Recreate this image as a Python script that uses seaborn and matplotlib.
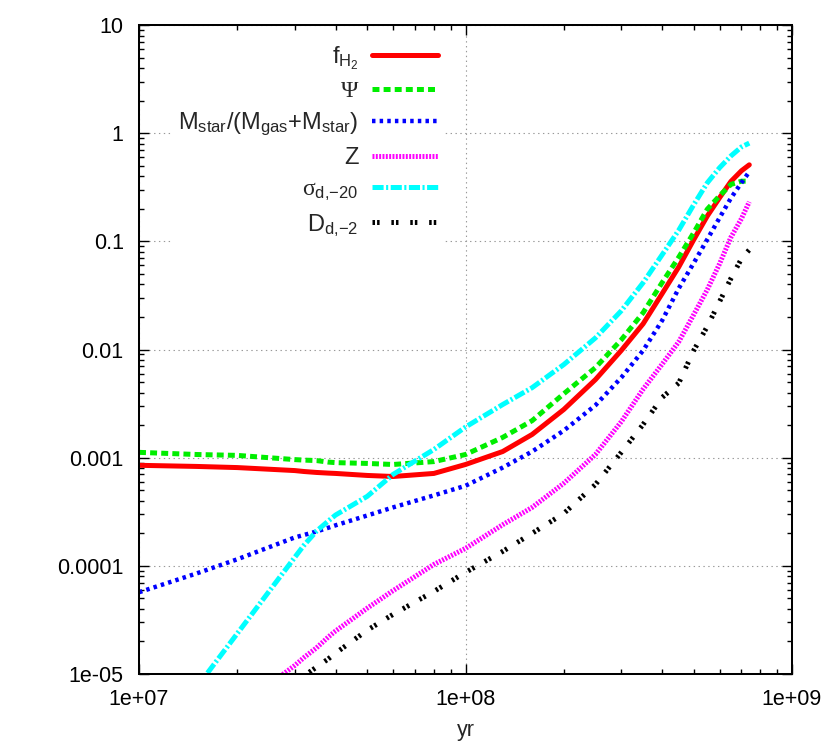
import numpy as np
import matplotlib
matplotlib.use('Agg')
import matplotlib.pyplot as plt
import seaborn as sns

# --- data (log-log, time in yr) ---
time_yr = [1e7, 1.5e7, 2e7, 3e7, 3.2e7, 3.5e7, 3.8e7, 4e7, 5e7, 6e7, 8e7, 1e8, 1.3e8,
           1.6e8, 2e8, 2.5e8, 3e8, 3.5e8, 4e8, 4.5e8, 5e8, 5.5e8, 6e8, 6.5e8, 7e8, 7.4e8]

f_h2 = [8.5e-4, 8.3e-4, 8.1e-4, 7.6e-4, 7.45e-4, 7.3e-4, 7.2e-4, 7.15e-4, 6.85e-4, 6.7e-4, 7.15e-4, 8.65e-4, 1.14e-3,
        1.64e-3, 2.79e-3, 5.27e-3, 9.8e-3, 0.0173, 0.0328, 0.058, 0.1035, 0.171, 0.253, 0.358, 0.449, 0.51]

psi = [1.12e-3, 1.07e-3, 1.05e-3, 9.6e-4, 9.5e-4, 9.4e-4, 9.1e-4, 9.0e-4, 8.85e-4, 8.65e-4, 9.2e-4, 1.07e-3, 1.54e-3,
       2.2e-3, 3.9e-3, 6.8e-3, 0.0123, 0.0219, 0.0415, 0.0714, 0.12, 0.198, 0.264, 0.336, 0.36, 0.36]

m_star_frac = [5.7e-5, 8.5e-5, 1.15e-4, 1.83e-4, 1.93e-4, 2.08e-4, 2.25e-4, 2.37e-4, 2.92e-4, 3.47e-4, 4.48e-4, 5.5e-4, 8.1e-4,
               1.14e-3, 1.78e-3, 3.05e-3, 5.5e-3, 9.8e-3, 0.0185, 0.0368, 0.063, 0.104, 0.165, 0.251, 0.348, 0.44]

metal_z = [np.nan, np.nan, 4.8e-6, 1.2e-5, 1.42e-5, 1.75e-5, 2.2e-5, 2.5e-5, 4.06e-5, 5.9e-5, 1.03e-4, 1.45e-4, 2.4e-4,
           3.47e-4, 5.8e-4, 1.07e-3, 2.15e-3, 4.3e-3, 7.3e-3, 0.0118, 0.021, 0.0357, 0.062, 0.109, 0.162, 0.232]

sigma_d = [np.nan, 7.5e-6, 2.37e-5, 1.2e-4, 1.55e-4, 2.1e-4, 2.6e-4, 2.95e-4, 4.39e-4, 7.0e-4, 1.19e-3, 1.92e-3, 3.1e-3,
           4.44e-3, 7.26e-3, 0.0128, 0.0228, 0.0415, 0.075, 0.127, 0.218, 0.347, 0.479, 0.616, 0.746, 0.81]

d_d = [np.nan, np.nan, np.nan, 8.0e-6, 9.6e-6, 1.16e-5, 1.38e-5, 1.56e-5, 2.54e-5, 3.56e-5, 5.8e-5, 8.7e-5, 1.36e-4,
       2.0e-4, 3.05e-4, 5.65e-4, 1.12e-3, 2.03e-3, 3.6e-3, 4.9e-3, 9.8e-3, 0.0163, 0.0277, 0.0454, 0.069, 0.0836]

labels = ['f$_{\\mathrm{H}_{2}}$',
          'Ψ',
          'M$_{\\mathrm{star}}$/(M$_{\\mathrm{gas}}$+M$_{\\mathrm{star}}$)',
          'Z',
          'σ$_{\\mathrm{d{,}{-}20}}$',
          'D$_{\\mathrm{d{,}{-}2}}$']

x_ticks = [1e7, 1e8, 1e9]
x_ticklabels = ['1e+07', '1e+08', '1e+09']
y_ticks = [1e-5, 1e-4, 1e-3, 1e-2, 1e-1, 1, 10]
y_ticklabels = ['1e-05', '0.0001', '0.001', '0.01', '0.1', '1', '10']

#------------------------------------------------------------------
#   STYLE
#------------------------------------------------------------------
sns.set_style('ticks')
plt.rcParams['font.family'] = ['Liberation Sans', 'DejaVu Sans']
plt.rcParams['mathtext.fontset'] = 'custom'
plt.rcParams['mathtext.rm'] = 'Liberation Sans'
plt.rcParams['mathtext.it'] = 'Liberation Sans:italic'
plt.rcParams['mathtext.bf'] = 'Liberation Sans:bold'
plt.rcParams['lines.scale_dashes'] = False
plt.rcParams['font.size'] = 15.5

fig = plt.figure(figsize=(8.3, 7.45), dpi=100)
ax = fig.add_axes([0.1675, 0.0953, 0.7867, 0.8711])

series = [
    (f_h2, '#ff0000', 3.6, '-'),
    (psi, '#00ee00', 3.6, (0, (5, 3))),
    (m_star_frac, '#0000ff', 3.2, (0, (2.5, 3))),
    (metal_z, '#ff00ff', 3.6, (0, (1.4, 1.0))),
    (sigma_d, '#00ffff', 3.6, (0, (8, 1.8, 1.5, 1.8))),
    (d_d, '#000000', 3.6, (0, (1.8, 1.5, 1.8, 8.5))),
]

for (vals, col, lw, ls), lab in zip(series, labels):
    sns.lineplot(x=time_yr, y=vals, ax=ax, color=col, lw=lw, linestyle=ls,
                 label=lab, estimator=None, sort=False)

ax.set_xscale('log')
ax.set_yscale('log')
ax.set_xlim(1e7, 1e9)
ax.set_ylim(1e-5, 10)
ax.set_xticks(x_ticks)
ax.set_xticklabels(x_ticklabels)
ax.set_yticks(y_ticks)
ax.set_yticklabels(y_ticklabels)
ax.xaxis.set_minor_formatter(matplotlib.ticker.NullFormatter())
ax.yaxis.set_minor_formatter(matplotlib.ticker.NullFormatter())

ax.tick_params(which='both', direction='in', top=True, right=True, width=1.0, colors='black')
ax.tick_params(which='major', length=7)
ax.tick_params(which='minor', length=3.5)
ax.tick_params(axis='y', which='major', pad=11)
ax.tick_params(axis='x', which='major', pad=11)
for sp in ax.spines.values():
    sp.set_linewidth(1.45)
    sp.set_color('black')

ax.grid(True, which='major', color='#999999', linestyle=(0, (1, 2.5)), linewidth=0.8)
ax.grid(False, which='minor')

ax.set_xlabel('yr', labelpad=7)
ax.set_ylabel('')

leg = ax.legend(loc='upper right', bbox_to_anchor=(0.487, 1.0), markerfirst=False,
                frameon=True, fancybox=False, framealpha=1, edgecolor='none',
                facecolor='white', handlelength=2.82, handletextpad=0.55,
                labelspacing=0.38, borderpad=0.3, fontsize=17)
leg.get_texts()[1].set_family('Liberation Serif')
leg.get_texts()[4].set_family('Liberation Serif')

fig.savefig('out.png', dpi=100)
